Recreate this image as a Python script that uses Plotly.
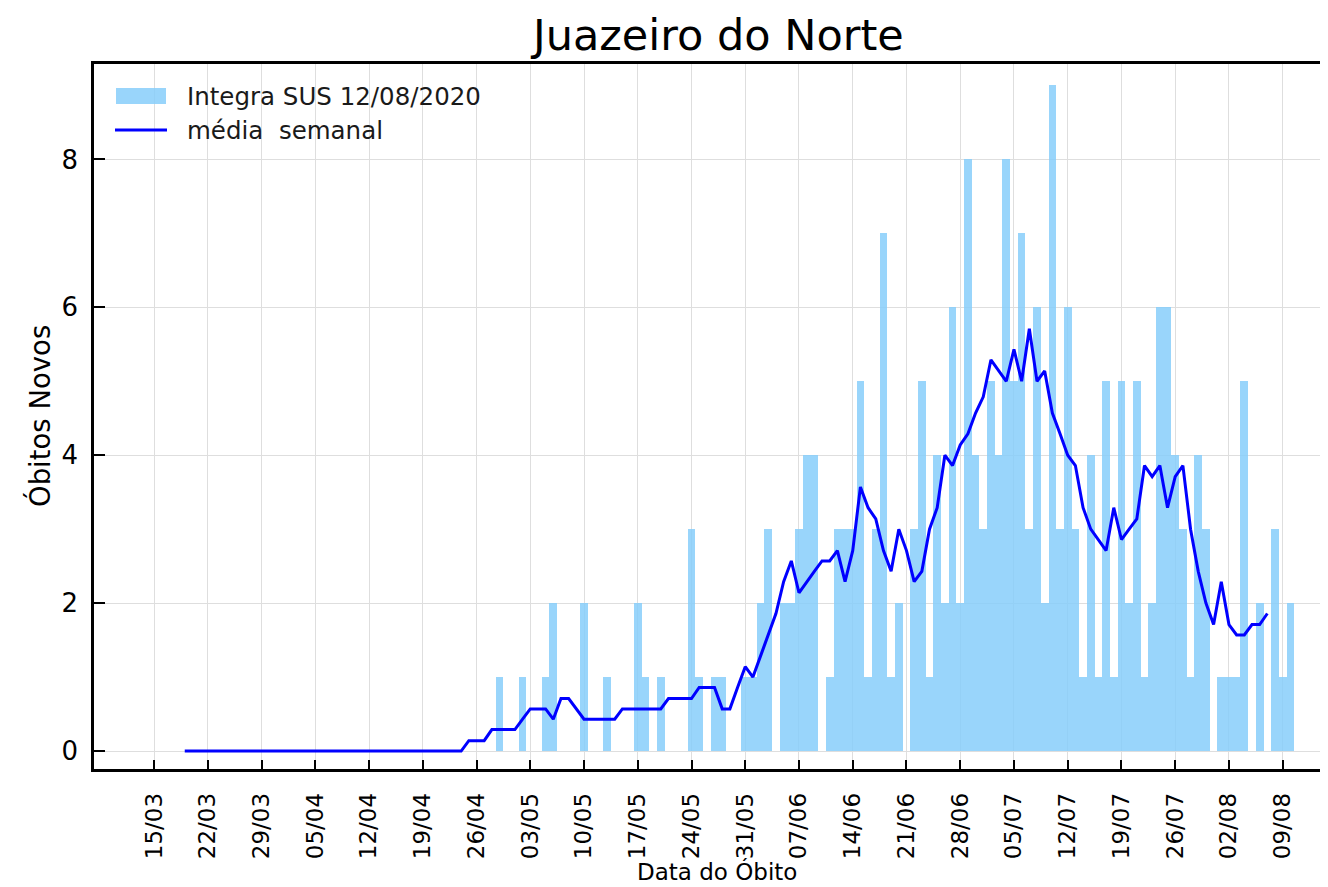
import pandas as pd
import plotly.graph_objects as go

# ---------------- data ----------------
# daily new deaths (bars), 16/03/2020 .. 10/08/2020
bar_start = "2020-03-16"
deaths_mar = [0] * 16                      # 16/03 - 31/03
deaths_apr = [0] * 28 + [1, 0]             # 01/04 - 30/04
deaths_may = [0, 1, 0, 0, 1, 2, 0, 0, 0, 2, 0, 0, 1, 0, 0, 0,
              2, 1, 0, 1, 0, 0, 0, 3, 1, 0, 1, 1, 0, 0, 1]
deaths_jun = [1, 2, 3, 0, 2, 2, 3, 4, 4, 0, 1, 3, 3, 3, 5,
              1, 3, 7, 1, 2, 0, 3, 5, 1, 4, 2, 6, 2, 8, 4]
deaths_jul = [3, 5, 4, 8, 5, 7, 3, 6, 2, 9, 3, 6, 3, 1, 4, 1,
              5, 1, 5, 2, 5, 1, 2, 6, 6, 4, 3, 1, 4, 3, 0]
deaths_aug = [1, 1, 1, 5, 0, 2, 0, 3, 1, 2]

# weekly mean (line), 19/03/2020 .. 07/08/2020
line_start = "2020-03-19"
mean_mar = [0] * 13                        # 19/03 - 31/03
mean_apr = [0] * 24 + [0.14, 0.14, 0.14, 0.29, 0.29, 0.29]
mean_may = [0.29, 0.43, 0.57, 0.57, 0.57, 0.43, 0.71, 0.71, 0.57, 0.43,
            0.43, 0.43, 0.43, 0.43, 0.57, 0.57, 0.57, 0.57, 0.57, 0.57,
            0.71, 0.71, 0.71, 0.71, 0.86, 0.86, 0.86, 0.57, 0.57, 0.86, 1.14]
mean_jun = [1.0, 1.29, 1.57, 1.86, 2.29, 2.57, 2.14, 2.29, 2.43, 2.57,
            2.57, 2.71, 2.29, 2.71, 3.57, 3.29, 3.14, 2.71, 2.43, 3.0,
            2.71, 2.29, 2.43, 3.0, 3.29, 4.0, 3.86, 4.14, 4.29, 4.57]
mean_jul = [4.79, 5.29, 5.14, 5.0, 5.43, 5.0, 5.71, 5.0, 5.14, 4.57,
            4.29, 4.0, 3.86, 3.29, 3.0, 2.86, 2.71, 3.29, 2.86, 3.0,
            3.14, 3.86, 3.71, 3.86, 3.29, 3.71, 3.86, 3.0, 2.43, 2.0, 1.71]
mean_aug = [2.29, 1.71, 1.57, 1.57, 1.71, 1.71, 1.86]

tick_dates = ["2020-03-15", "2020-03-22", "2020-03-29", "2020-04-05", "2020-04-12",
              "2020-04-19", "2020-04-26", "2020-05-03", "2020-05-10", "2020-05-17",
              "2020-05-24", "2020-05-31", "2020-06-07", "2020-06-14", "2020-06-21",
              "2020-06-28", "2020-07-05", "2020-07-12", "2020-07-19", "2020-07-26",
              "2020-08-02", "2020-08-09"]
tick_labels = ["15/03", "22/03", "29/03", "05/04", "12/04", "19/04", "26/04",
               "03/05", "10/05", "17/05", "24/05", "31/05", "07/06", "14/06",
               "21/06", "28/06", "05/07", "12/07", "19/07", "26/07", "02/08", "09/08"]
y_ticks = [0, 2, 4, 6, 8]

title_text = "Juazeiro do Norte"
bar_name = "Integra SUS 12/08/2020"
line_name = "média\u00a0 semanal"
x_title = "Data do Óbito"
y_title = "Óbitos Novos"

# ---------------- build ----------------
deaths = deaths_mar + deaths_apr + deaths_may + deaths_jun + deaths_jul + deaths_aug
weekly = mean_mar + mean_apr + mean_may + mean_jun + mean_jul + mean_aug
bar_dates = pd.date_range(bar_start, periods=len(deaths), freq="D")
line_dates = pd.date_range(line_start, periods=len(weekly), freq="D")

OFF = 8                       # page body margin
PAGE_W, PAGE_H = 1328, 887
W, H = PAGE_W - OFF, PAGE_H - OFF
# plot-area edges in page pixels
P_LEFT, P_TOP, P_BOTTOM, P_RIGHT = 94, 64, 769, 1328
L, T = P_LEFT - OFF, P_TOP - OFF
B = H - (P_BOTTOM - OFF)
R = W - (P_RIGHT - OFF)
PW, PH = W - L - R, H - T - B
FONT = "DejaVu Sans"


def px(xp):
    return (xp - P_LEFT) / PW


def py(yp):
    return (P_BOTTOM - yp) / PH


BAR_COLOR = "rgba(135,206,250,0.85)"
LINE_COLOR = "#0000ff"

fig = go.Figure()
fig.add_trace(go.Bar(x=bar_dates, y=deaths, width=86400000, name=bar_name,
                     marker=dict(color=BAR_COLOR, line=dict(width=0)),
                     showlegend=False))
fig.add_trace(go.Scatter(x=line_dates, y=weekly, mode="lines", name=line_name,
                         line=dict(color=LINE_COLOR, width=3),
                         showlegend=False))

grid = "rgb(222,222,222)"
fig.update_layout(
    width=W, height=H, autosize=False,
    margin=dict(l=L, r=R, t=T, b=B, pad=0),
    paper_bgcolor="white", plot_bgcolor="white",
    font=dict(family=FONT, color="black"),
    xaxis=dict(type="date", range=["2020-03-07 04:20", "2020-08-14 21:36"],
               tickmode="array", tickvals=tick_dates, ticktext=tick_labels,
               tickangle=-90, ticks="inside", ticklen=9, tickwidth=1.5,
               tickcolor="black", showline=True, linecolor="black", linewidth=2.5,
               mirror=True, showgrid=True, gridcolor=grid, gridwidth=1,
               zeroline=False, tickfont=dict(family=FONT, size=23, color="black"),
               ticklabelstandoff=12),
    yaxis=dict(range=[-0.243, 9.29], tickmode="array", tickvals=y_ticks,
               ticks="inside", ticklen=11, tickwidth=1.5, tickcolor="black",
               showline=True, linecolor="black", linewidth=2.5, mirror=False,
               showgrid=True, gridcolor=grid, gridwidth=1, zeroline=False,
               tickfont=dict(family=FONT, size=26, color="black"),
               ticklabelstandoff=8),
    bargap=0,
)

# title and axis titles
fig.add_annotation(text=title_text, xref="paper", yref="paper", x=px(717), y=py(35),
                   xanchor="center", yanchor="middle", showarrow=False,
                   font=dict(family=FONT, size=43, color="black"))
fig.add_annotation(text=x_title, xref="paper", yref="paper", x=px(717), y=py(871),
                   xanchor="center", yanchor="middle", showarrow=False,
                   font=dict(family=FONT, size=23, color="black"))
fig.add_annotation(text=y_title, xref="paper", yref="paper", x=px(39), y=py(416),
                   xanchor="center", yanchor="middle", showarrow=False, textangle=-90,
                   font=dict(family=FONT, size=27.5, color="black"))

# legend (drawn)
fig.add_shape(type="rect", xref="paper", yref="paper", x0=px(116), x1=px(166),
              y0=py(104), y1=py(88), fillcolor=BAR_COLOR, line=dict(width=0))
fig.add_shape(type="line", xref="paper", yref="paper", x0=px(115), x1=px(167),
              y0=py(130), y1=py(130), line=dict(color=LINE_COLOR, width=3))
fig.add_annotation(text=bar_name, xref="paper", yref="paper", x=px(185), y=py(97),
                   xanchor="left", yanchor="middle", showarrow=False,
                   font=dict(family=FONT, size=24.5, color="#1a1a1a"))
fig.add_annotation(text=line_name, xref="paper", yref="paper", x=px(185), y=py(130),
                   xanchor="left", yanchor="middle", showarrow=False,
                   font=dict(family=FONT, size=24.5, color="#1a1a1a"))

fig.write_html("out.html")
